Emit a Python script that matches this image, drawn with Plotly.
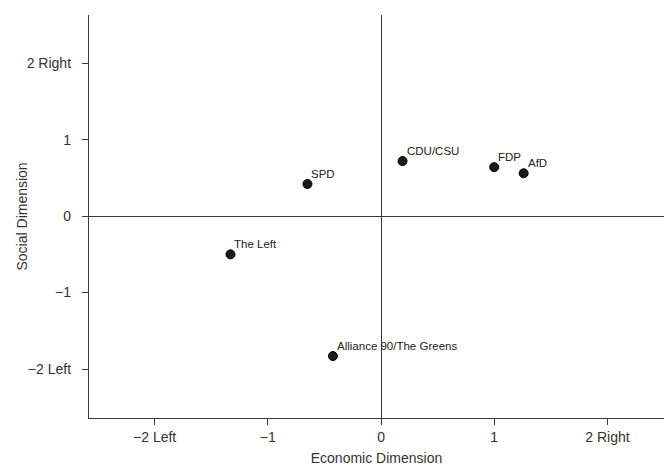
import plotly.graph_objects as go

parties = ["SPD", "CDU/CSU", "FDP", "AfD", "The Left", "Alliance 90/The Greens"]
economic = [-0.65, 0.19, 1.00, 1.26, -1.33, -0.425]
social = [0.42, 0.72, 0.64, 0.56, -0.50, -1.83]

x_tickvals = [-2, -1, 0, 1, 2]
x_ticktext = ["\u22122 Left", "\u22121", "0", "1", "2 Right"]
y_tickvals = [-2, -1, 0, 1, 2]
y_ticktext = ["\u22122 Left", "\u22121", "0", "1", "2 Right"]

FONT = "Liberation Sans, Arial, sans-serif"
AXIS_COLOR = "#3a3a3a"
TEXT_COLOR = "#333"

fig = go.Figure()
fig.add_trace(go.Scatter(
    x=economic, y=social, mode="markers",
    marker=dict(size=9, color="#1a1a1a", line=dict(color="#000", width=1)),
    showlegend=False, cliponaxis=False, hoverinfo="text", hovertext=parties,
))

for name, xv, yv in zip(parties, economic, social):
    fig.add_annotation(
        x=xv, y=yv, text=name, showarrow=False,
        xanchor="left", yanchor="bottom", xshift=2, yshift=2,
        font=dict(family=FONT, size=11.5, color="#222"),
    )

# y-axis title placed as a rotated annotation for exact position
fig.add_annotation(
    xref="paper", yref="paper", x=0, y=0.5, xshift=-68,
    text="Social Dimension", textangle=-90, showarrow=False,
    xanchor="center", yanchor="middle",
    font=dict(family=FONT, size=14, color=TEXT_COLOR),
)

fig.update_layout(
    width=664, height=466,
    margin=dict(l=89, r=0, t=15, b=48),
    paper_bgcolor="white", plot_bgcolor="white",
    font=dict(family=FONT, size=14, color=TEXT_COLOR),
    hovermode=False,
    xaxis=dict(
        range=[-2.58, 2.5], tickvals=x_tickvals, ticktext=x_ticktext,
        showgrid=False, zeroline=True, zerolinecolor=AXIS_COLOR, zerolinewidth=1.3,
        showline=True, linecolor=AXIS_COLOR, linewidth=1.3,
        ticks="outside", ticklen=6, tickcolor=AXIS_COLOR,
        title=dict(text="Economic Dimension", standoff=9, font=dict(size=14)),
        tickfont=dict(size=14),
    ),
    yaxis=dict(
        range=[-2.64, 2.63], tickvals=y_tickvals, ticktext=y_ticktext,
        showgrid=False, zeroline=True, zerolinecolor=AXIS_COLOR, zerolinewidth=1.3,
        showline=True, linecolor=AXIS_COLOR, linewidth=1.3,
        ticks="outside", ticklen=6, tickcolor=AXIS_COLOR,
        ticklabelstandoff=8,
        tickfont=dict(size=14),
    ),
)

fig.write_html(
    "out.html",
    config={"displayModeBar": False},
    post_script="document.body.style.margin='0';document.body.style.overflow='hidden';",
)
